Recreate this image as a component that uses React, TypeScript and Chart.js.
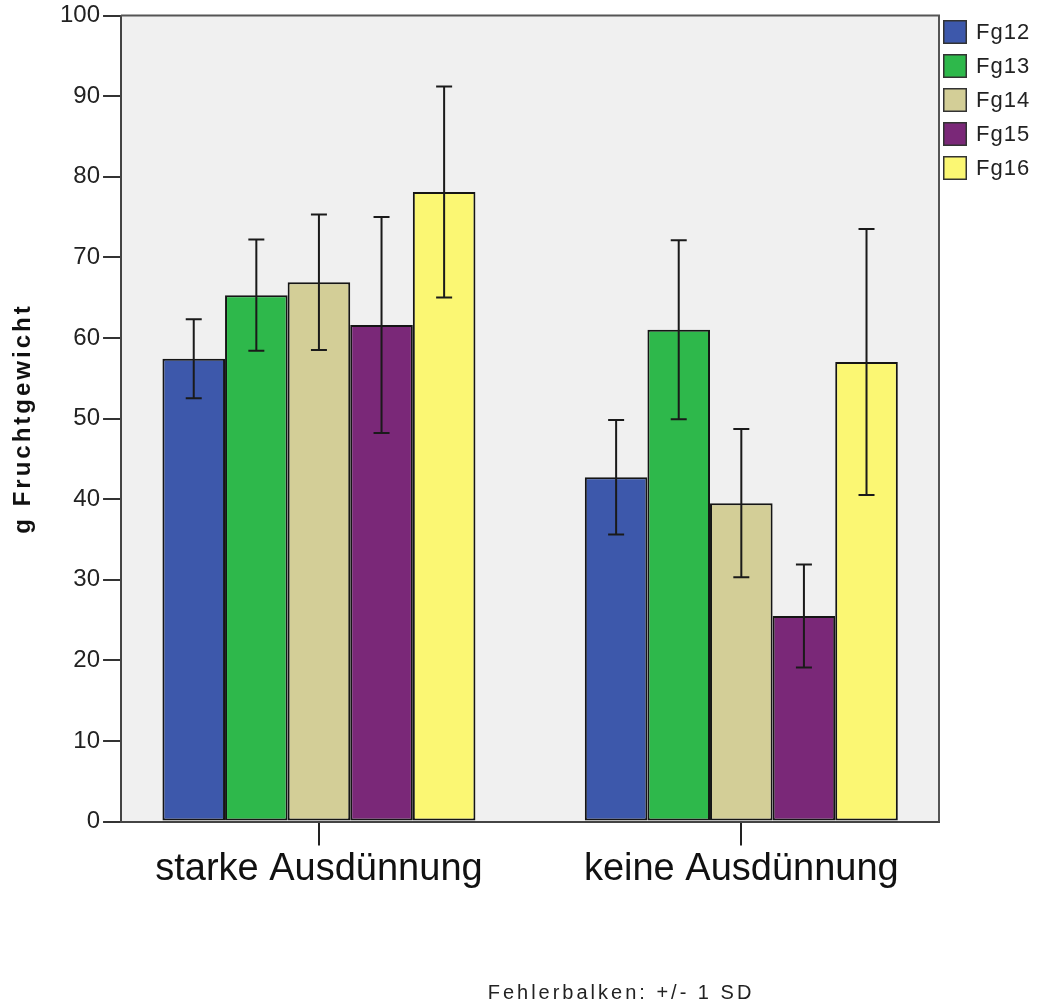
import React, { useEffect, useRef } from "react";
import { Chart, registerables } from "chart.js";

Chart.register(...registerables);

// Groups on the x axis
const categories = ["starke Ausdünnung", "keine Ausdünnung"];

// Series (fruit groups) and their fills
const seriesNames = ["Fg12", "Fg13", "Fg14", "Fg15", "Fg16"];
const seriesColors = ["#3d58ab", "#2eb84b", "#d3ce97", "#7a2878", "#fbf773"];

// Mean fruit weight (g) per group
const fg12Mean = [57.4, 42.7];
const fg13Mean = [65.3, 61.0];
const fg14Mean = [66.9, 39.5];
const fg15Mean = [61.6, 25.5];
const fg16Mean = [78.1, 57.0];

// Standard deviation per group
const fg12Sd = [4.9, 7.1];
const fg13Sd = [6.9, 11.1];
const fg14Sd = [8.4, 9.2];
const fg15Sd = [13.4, 6.4];
const fg16Sd = [13.1, 16.5];

const seriesMeans = [fg12Mean, fg13Mean, fg14Mean, fg15Mean, fg16Mean];
const seriesSds = [fg12Sd, fg13Sd, fg14Sd, fg15Sd, fg16Sd];

const yMin = 0;
const yMax = 100;
const yStep = 10;

const yTitle = "g Fruchtgewicht";
const footnote = "Fehlerbalken: +/- 1 SD";

const SANS = '"Liberation Sans", Arial, sans-serif';

// Grey plot background plus the top/right frame lines
const plotFrame = {
  id: "plotFrame",
  beforeDraw(chart: any) {
    const { ctx, chartArea: a } = chart;
    ctx.save();
    ctx.fillStyle = "#f0f0f0";
    ctx.fillRect(a.left, a.top, a.right - a.left, a.bottom - a.top);
    ctx.restore();
  },
  afterDraw(chart: any) {
    const { ctx, chartArea: a } = chart;
    ctx.save();
    ctx.strokeStyle = "#555";
    ctx.lineWidth = 2;
    ctx.beginPath();
    ctx.moveTo(a.left, a.top);
    ctx.lineTo(a.right, a.top);
    ctx.lineTo(a.right, a.bottom);
    ctx.stroke();
    ctx.restore();
  },
};

// +/- 1 SD whiskers on every bar
const errorBars = {
  id: "errorBars",
  afterDatasetsDraw(chart: any) {
    const { ctx } = chart;
    const yScale = chart.scales.y;
    ctx.save();
    ctx.strokeStyle = "#1a1a1a";
    ctx.lineWidth = 2;
    chart.data.datasets.forEach((ds: any, i: number) => {
      const meta = chart.getDatasetMeta(i);
      if (meta.hidden) return;
      meta.data.forEach((el: any, j: number) => {
        const m = ds.data[j].y;
        const sd = ds.sd[j];
        const yHi = yScale.getPixelForValue(m + sd);
        const yLo = yScale.getPixelForValue(m - sd);
        const x = el.x;
        const cap = 8;
        ctx.beginPath();
        ctx.moveTo(x, yHi);
        ctx.lineTo(x, yLo);
        ctx.moveTo(x - cap, yHi);
        ctx.lineTo(x + cap, yHi);
        ctx.moveTo(x - cap, yLo);
        ctx.lineTo(x + cap, yLo);
        ctx.stroke();
      });
    });
    ctx.restore();
  },
};

// Axis title, legend to the right of the plot, and the footnote below it
const annotations = {
  id: "annotations",
  afterDraw(chart: any) {
    const { ctx, chartArea: a } = chart;
    ctx.save();

    // rotated y-axis title
    ctx.save();
    ctx.translate(30, (a.top + a.bottom) / 2);
    ctx.rotate(-Math.PI / 2);
    ctx.font = `bold 24px ${SANS}`;
    (ctx as any).letterSpacing = "3px";
    ctx.fillStyle = "#111";
    ctx.textAlign = "center";
    ctx.textBaseline = "alphabetic";
    ctx.fillText(yTitle, 0, 0);
    ctx.restore();

    const x0 = a.right + 4;
    const y0 = 20;
    const box = 24;
    const rowGap = 34;
    chart.data.datasets.forEach((ds: any, i: number) => {
      const y = y0 + i * rowGap;
      ctx.fillStyle = ds.backgroundColor;
      ctx.fillRect(x0, y, box, box);
      ctx.strokeStyle = "#333";
      ctx.lineWidth = 1.5;
      ctx.strokeRect(x0 + 0.75, y + 0.75, box - 1.5, box - 1.5);
      ctx.fillStyle = "#222";
      ctx.font = `22px ${SANS}`;
      (ctx as any).letterSpacing = "1px";
      ctx.textAlign = "left";
      ctx.textBaseline = "middle";
      ctx.fillText(ds.label, x0 + box + 9, y + box / 2 + 1);
    });

    ctx.font = `20px ${SANS}`;
    (ctx as any).letterSpacing = "3px";
    ctx.fillStyle = "#222";
    ctx.textAlign = "center";
    ctx.textBaseline = "alphabetic";
    ctx.fillText(footnote, 621, 999);
    ctx.restore();
  },
};

export default function App() {
  const canvasRef = useRef<HTMLCanvasElement | null>(null);

  useEffect(() => {
    if (!canvasRef.current) return;
    const datasets = seriesNames.map((name, i) => ({
      label: name,
      data: seriesMeans[i].map((v, j) => ({ x: j, y: v })),
      sd: seriesSds[i],
      backgroundColor: seriesColors[i],
      borderColor: "#151515",
      borderWidth: 2,
      borderSkipped: false,
      barPercentage: 1,
      categoryPercentage: 0.741,
    }));

    const chart = new Chart(canvasRef.current, {
      type: "bar",
      data: { datasets } as any,
      options: {
        animation: false,
        responsive: false,
        layout: { padding: { left: 57, top: 15.5, right: 101, bottom: 112.9 } },
        plugins: {
          legend: { display: false },
          tooltip: { enabled: false },
        },
        scales: {
          x: {
            type: "linear",
            offset: false,
            min: -0.4685,
            max: 1.468,
            afterBuildTicks: (scale: any) => {
              scale.ticks = categories.map((_, i) => ({ value: i }));
            },
            ticks: {
              callback: (v: any) => categories[v] ?? "",
              autoSkip: false,
              maxRotation: 0,
              padding: 1,
              color: "#111",
              font: { family: SANS, size: 38, lineHeight: 1.2 },
            },
            grid: {
              offset: false,
              drawOnChartArea: false,
              drawTicks: true,
              tickLength: 24,
              color: "#222",
              lineWidth: 2,
            },
            border: { color: "#444", width: 2 },
          },
          y: {
            min: yMin,
            max: yMax,
            ticks: {
              stepSize: yStep,
              padding: 3,
              color: "#222",
              font: { family: SANS, size: 24, lineHeight: 1 },
            },
            grid: {
              drawOnChartArea: false,
              drawTicks: true,
              tickLength: 18,
              color: "#333",
              lineWidth: 2,
            },
            border: { color: "#444", width: 2 },
          },
        },
      } as any,
      plugins: [plotFrame, errorBars, annotations],
    });
    return () => chart.destroy();
  }, []);

  return (
    <div style={{ position: "absolute", left: 0, top: 0, width: 1040, height: 1006, background: "#fff" }}>
      <canvas ref={canvasRef} width={1040} height={1006} style={{ display: "block" }} />
    </div>
  );
}
